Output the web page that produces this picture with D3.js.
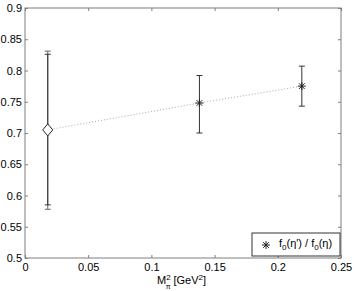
<!DOCTYPE html>
<html>
<head>
<meta charset="utf-8">
<script src="https://cdn.jsdelivr.net/npm/d3@7"></script>
<style>
  body { margin: 0; background: #fff; }
  text { font-family: "Liberation Sans", Arial, sans-serif; }
</style>
</head>
<body>
<div id="chart"></div>
<script>
// Donnees
var mpi2 = [0.018, 0.138, 0.219];
var ratio = [0.705, 0.748, 0.775];
var errLow = [0.585, 0.700, 0.743];
var errHigh = [0.826, 0.792, 0.807];
// deuxieme barre d'erreur du premier point
var errLow2 = [0.578];
var errHigh2 = [0.831];
var xTicks = [0, 0.05, 0.1, 0.15, 0.2, 0.25];
var yTicks = [0.5, 0.55, 0.6, 0.65, 0.7, 0.75, 0.8, 0.85, 0.9];

var W = 354, H = 291;
var margin = {top: 8, right: 13, bottom: 33, left: 25},
    width = W - margin.left - margin.right,
    height = H - margin.top - margin.bottom;

var svg = d3.select("#chart").append("svg")
    .attr("width", W).attr("height", H)
  .append("g")
    .attr("transform", "translate(" + margin.left + "," + margin.top + ")");

var x = d3.scaleLinear().domain([0, 0.25]).range([0, width]);
var y = d3.scaleLinear().domain([0.5, 0.9]).range([height, 0]);

var axisCol = "#7f7f7f";
var fmt = function(d) { return String(+d.toFixed(2)); };

function styleAxis(g) {
  g.select(".domain").remove();
  g.selectAll(".tick line").attr("stroke", axisCol);
  g.selectAll(".tick text").attr("fill", "#000").style("font-size", "11px");
}

// axes bas / gauche avec etiquettes
svg.append("g")
  .attr("transform", "translate(0," + height + ")")
  .call(d3.axisBottom(x).tickValues(xTicks).tickSize(-3).tickPadding(5).tickFormat(fmt))
  .call(styleAxis);
svg.append("g")
  .call(d3.axisLeft(y).tickValues(yTicks).tickSize(-3).tickPadding(3).tickFormat(fmt))
  .call(styleAxis);
// axes haut / droite sans etiquettes
svg.append("g")
  .call(d3.axisTop(x).tickValues(xTicks).tickSize(-3).tickFormat(""))
  .call(styleAxis);
svg.append("g")
  .attr("transform", "translate(" + width + ",0)")
  .call(d3.axisRight(y).tickValues(yTicks).tickSize(-3).tickFormat(""))
  .call(styleAxis);

// cadre
svg.append("rect")
  .attr("width", width).attr("height", height)
  .attr("fill", "none").attr("stroke", axisCol).attr("stroke-width", 1);

// ligne pointillee
svg.append("path")
  .datum(d3.range(mpi2.length))
  .attr("d", d3.line().x(function(i) { return x(mpi2[i]); }).y(function(i) { return y(ratio[i]); }))
  .attr("fill", "none").attr("stroke", "#aaa").attr("stroke-width", 1)
  .attr("stroke-dasharray", "1,2");

// barres d'erreur
function errBar(xv, lo, hi, col) {
  var g = svg.append("g").attr("stroke", col).attr("stroke-width", 1);
  g.append("line").attr("x1", x(xv)).attr("x2", x(xv)).attr("y1", y(lo)).attr("y2", y(hi));
  [lo, hi].forEach(function(v) {
    g.append("line").attr("x1", x(xv) - 3).attr("x2", x(xv) + 3).attr("y1", y(v)).attr("y2", y(v));
  });
}
errBar(mpi2[0], errLow2[0], errHigh2[0], "#666");
mpi2.forEach(function(d, i) { errBar(d, errLow[i], errHigh[i], "#333"); });

// marqueurs
function star(g, cx, cy, r) {
  [0, 45, 90, 135].forEach(function(a) {
    var t = a * Math.PI / 180;
    g.append("line")
      .attr("x1", cx - r * Math.cos(t)).attr("y1", cy - r * Math.sin(t))
      .attr("x2", cx + r * Math.cos(t)).attr("y2", cy + r * Math.sin(t))
      .attr("stroke", "#222").attr("stroke-width", 1);
  });
}
svg.append("path")
  .attr("d", "M0,-6L5,0L0,6L-5,0Z")
  .attr("transform", "translate(" + x(mpi2[0]) + "," + y(ratio[0]) + ")")
  .attr("fill", "#fff").attr("stroke", "#222").attr("stroke-width", 1);
for (var i = 1; i < mpi2.length; i++) star(svg, x(mpi2[i]), y(ratio[i]), 4);

// legende
var leg = svg.append("g").attr("transform", "translate(" + (width - 89) + "," + (height - 25) + ")");
leg.append("rect").attr("width", 88).attr("height", 23)
  .attr("fill", "#fff").attr("stroke", "#333").attr("stroke-width", 1);
star(leg, 14, 12, 4);
var lt = leg.append("text").attr("x", 27).attr("y", 14).style("font-size", "11px");
lt.append("tspan").text("f");
lt.append("tspan").attr("dy", 3).style("font-size", "8px").text("0");
lt.append("tspan").attr("dy", -3).text("(η′) / f");
lt.append("tspan").attr("dy", 3).style("font-size", "8px").text("0");
lt.append("tspan").attr("dy", -3).text("(η)");

// titre axe x
var xl = svg.append("text").attr("x", 132).attr("y", height + 26).style("font-size", "11px");
xl.append("tspan").text("M");
xl.append("tspan").attr("dy", -4).style("font-size", "8px").text("2");
xl.append("tspan").attr("dx", -5).attr("dy", 9).style("font-size", "7px").text("π");
xl.append("tspan").attr("dx", 3).attr("dy", -5).text("[GeV");
xl.append("tspan").attr("dy", -4).style("font-size", "8px").text("2");
xl.append("tspan").attr("dy", 4).text("]");
</script>
</body>
</html>
